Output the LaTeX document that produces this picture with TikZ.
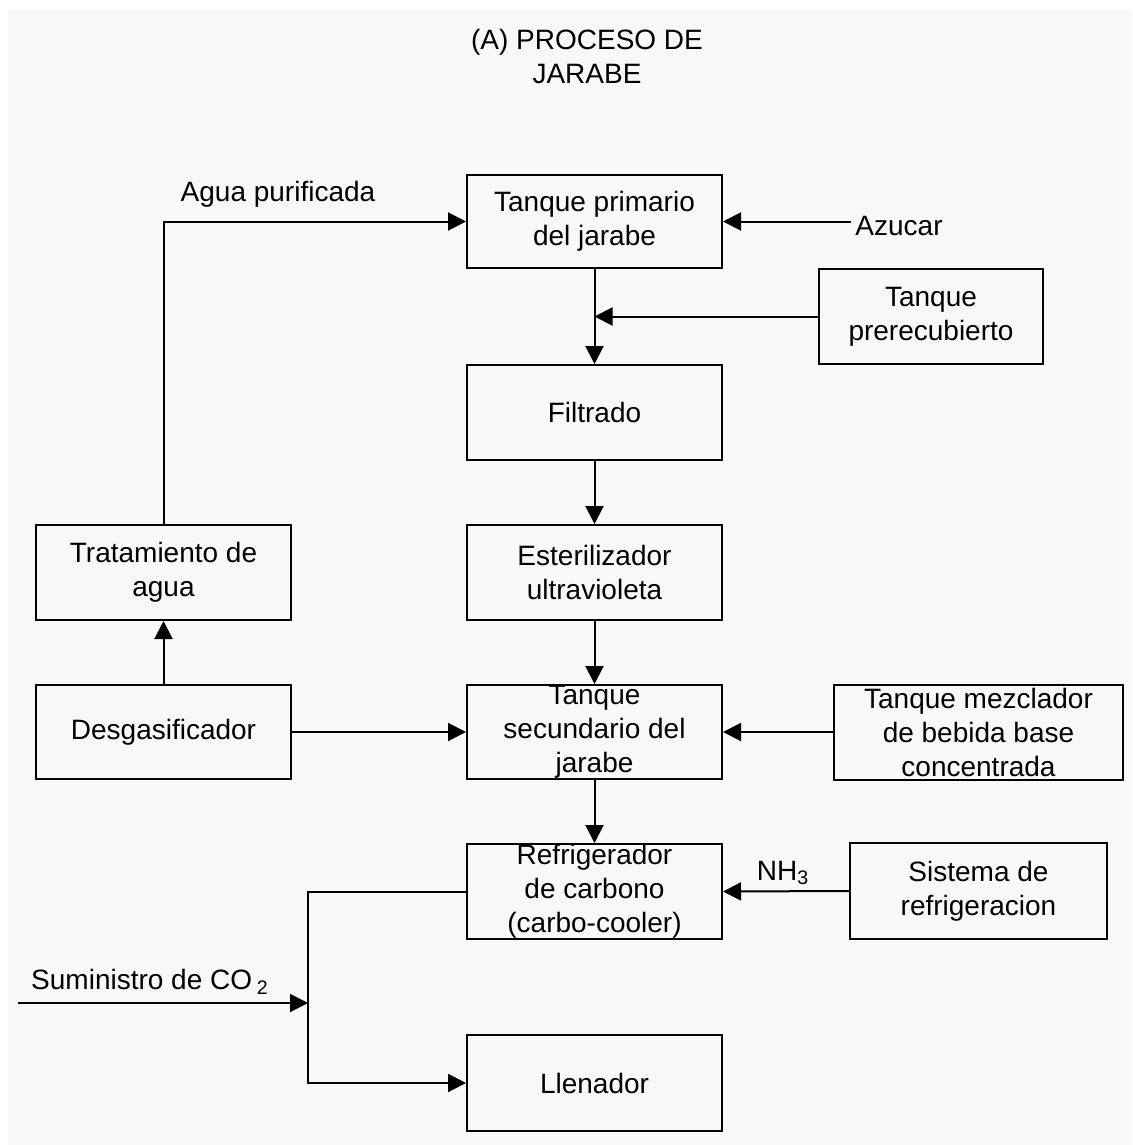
\documentclass[tikz,border=0pt]{standalone}
\usepackage{fontspec}
\setmainfont{Liberation Sans}
\usetikzlibrary{arrows.meta}
\definecolor{bgcol}{HTML}{F8F8F8}
\begin{document}
\begin{tikzpicture}[x=0.5pt,y=-0.5pt,
  txt/.style={font=\fontsize{14}{17}\selectfont},
  bx/.style={draw, line width=1pt, align=center, inner sep=0pt, txt},
  lbl/.style={inner sep=0pt, txt},
  arr/.style={line width=1pt, -{Triangle[length=9pt,width=9pt]}},
  ln/.style={line width=1pt}]
\useasboundingbox (0,0) rectangle (1132,1145);
\fill[bgcol] (8,10) rectangle (1132,1145);

\node[lbl, align=center] (title) at (587,56) {(A) PROCESO DE\\JARABE};

\node[bx, minimum width=127.5pt, minimum height=46.5pt] (tp) at (594.5,221.5) {Tanque primario\\del jarabe};
\node[bx, minimum width=112pt, minimum height=47.5pt] (pre) at (931,316.5) {Tanque\\prerecubierto};
\node[bx, minimum width=127.5pt, minimum height=47.5pt] (filt) at (594.5,412.5) {Filtrado};
\node[bx, minimum width=127.5pt, minimum height=47.5pt] (est) at (594.5,572.5) {Esterilizador\\ultravioleta};
\node[bx, minimum width=127.5pt, minimum height=47.5pt] (trat) at (163.5,572.5) {Tratamiento de\\agua};
\node[bx, minimum width=127.5pt, minimum height=47pt] (des) at (163.5,732) {Desgasificador};
\node[bx, minimum width=127.5pt, minimum height=47pt] (sec) at (594.5,732) {Tanque\\secundario del\\jarabe};
\node[bx, minimum width=144.5pt, minimum height=47.5pt] (mez) at (978.5,732) {Tanque mezclador\\de bebida base\\concentrada};
\node[bx, minimum width=127.5pt, minimum height=47.5pt] (ref) at (594.5,891.5) {Refrigerador\\de carbono\\(carbo-cooler)};
\node[bx, minimum width=128.5pt, minimum height=48pt] (sis) at (978.5,891) {Sistema de\\refrigeracion};
\node[bx, minimum width=127.5pt, minimum height=48pt] (llen) at (594.5,1083) {Llenador};

\node[lbl] (agua) at (278,194) {Agua purificada};
\node[lbl] (az) at (899,226) {Azucar};
\node[lbl] (nh) at (783,873) {NH\textsubscript{3}};
\node[lbl] (co2) at (150,982) {Suministro de CO\,\textsubscript{2}};

\coordinate (junc) at (308,1003);
\coordinate (src) at (18,1003);

\draw[arr] (trat.north) |- (tp.west);
\draw[arr] (az.west |- tp.east) ++(-4,0) -- (tp.east);
\draw[arr] (tp.south) -- (filt.north);
\draw[arr] (pre.west) -- (pre.west -| tp.south);
\draw[arr] (filt.south) -- (est.north);
\draw[arr] (est.south) -- (sec.north);
\draw[arr] (sec.south) -- (ref.north);
\draw[arr] (des.north) -- (trat.south);
\draw[arr] (des.east) -- (sec.west);
\draw[arr] (mez.west) -- (sec.east);
\draw[arr] (sis.west) -- (ref.east);
\draw[ln] (ref.west) -| (junc);
\draw[arr] (junc) |- (llen.west);
\draw[arr] (src) -- (junc);
\end{tikzpicture}
\end{document}
